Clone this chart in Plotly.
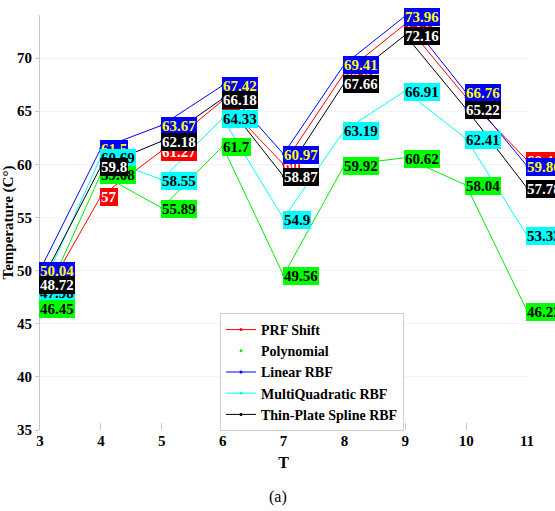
import plotly.graph_objects as go

# Time step index
t_vals = [3, 4, 5, 6, 7, 8, 9, 10, 11]

# Temperature estimates (°C) per method
prf_shift = [46.9, 57.0, 61.27, 66.0, 60.0, 68.6, 73.2, 66.3, 60.4]
polynomial = [46.45, 59.08, 55.89, 61.7, 49.56, 59.92, 60.62, 58.04, 46.22]
linear_rbf = [50.04, 61.5, 63.67, 67.42, 60.97, 69.41, 73.96, 66.76, 59.86]
multiquad_rbf = [47.98, 60.69, 58.55, 64.33, 54.9, 63.19, 66.91, 62.41, 53.33]
tps_rbf = [48.72, 59.8, 62.18, 66.18, 58.87, 67.66, 72.16, 65.22, 57.78]

y_ticks = [35, 40, 45, 50, 55, 60, 65, 70]

FONT = "Liberation Serif"

series = [
    # name, values, line colour, label box colour, label text colour
    ("PRF Shift", prf_shift, "#ff0000", "#ff0000", "#ffffff"),
    ("Polynomial", polynomial, "#00ee00", "#00ff00", "#000000"),
    ("Linear RBF", linear_rbf, "#0000ff", "#0000ff", "#ffff00"),
    ("MultiQuadratic RBF", multiquad_rbf, "#00ffff", "#00ffff", "#000000"),
    ("Thin-Plate Spline RBF", tps_rbf, "#000000", "#000000", "#ffffff"),
]

fig = go.Figure()
for name, vals, col, _, _ in series:
    if name == "Polynomial":
        fig.add_trace(go.Scatter(x=t_vals, y=vals, mode="lines", name=name,
                                 line=dict(color=col, width=1), showlegend=False))
        fig.add_trace(go.Scatter(x=t_vals, y=vals, mode="markers", name=name,
                                 marker=dict(color=col, size=3)))
    else:
        fig.add_trace(go.Scatter(x=t_vals, y=vals, mode="lines+markers", name=name,
                                 line=dict(color=col, width=1),
                                 marker=dict(color=col, size=3)))

# value labels: boxes drawn in stacking order (last on top)
label_order = ["PRF Shift", "Linear RBF", "MultiQuadratic RBF", "Polynomial", "Thin-Plate Spline RBF"]
lookup = {s[0]: s for s in series}
for key in label_order:
    name, vals, col, bg, fg = lookup[key]
    for t, v in zip(t_vals, vals):
        fig.add_annotation(x=t, y=v, xref="x", yref="y", text=f"{v:g}",
                           showarrow=False, xanchor="left", yanchor="middle",
                           xshift=-1, yshift=-1, bgcolor=bg, borderpad=1, borderwidth=0,
                           font=dict(family=FONT, size=15, color=fg, weight="bold"))

plot_w = 555 - 40 - 28
plot_h = 511 - 15 - 81

fig.add_annotation(x=(278 - 40) / plot_w, y=(430 - 497) / plot_h, xref="paper", yref="paper",
                   xanchor="center", yanchor="middle", text="(a)", showarrow=False,
                   font=dict(family=FONT, size=16, color="#000000"))

fig.update_layout(
    width=555, height=511,
    margin=dict(l=40, r=28, t=15, b=81),
    paper_bgcolor="white", plot_bgcolor="white",
    font=dict(family=FONT, size=15, color="#000000"),
    xaxis=dict(range=[3, 11], tickvals=t_vals, ticks="inside", ticklen=7,
               tickcolor="#c8c8c8", showline=False, showgrid=False, zeroline=False,
               automargin=False,
               tickfont=dict(family=FONT, size=15, weight="bold"),
               title=dict(text="<b>T</b>", font=dict(family=FONT, size=16), standoff=8)),
    yaxis=dict(range=[35, 74.05], tickvals=y_ticks, ticks="outside", ticklen=4,
               tickcolor="#c8c8c8", showline=True, linecolor="#c8c8c8",
               showgrid=True, gridcolor="#f3f3f3", zeroline=False,
               automargin=False,
               tickfont=dict(family=FONT, size=15, weight="bold"),
               title=dict(text="<b>Temperature (C°)</b>", font=dict(family=FONT, size=15),
                          standoff=1)),
    legend=dict(x=(220 - 40) / plot_w, y=(430 - 313) / plot_h, xref="paper", yref="paper",
                xanchor="left", yanchor="top",
                bgcolor="white", bordercolor="#d0d0d0", borderwidth=1,
                itemwidth=30, tracegroupgap=0,
                font=dict(family=FONT, size=14, weight="bold")),
)

fig.write_html("out.html")
